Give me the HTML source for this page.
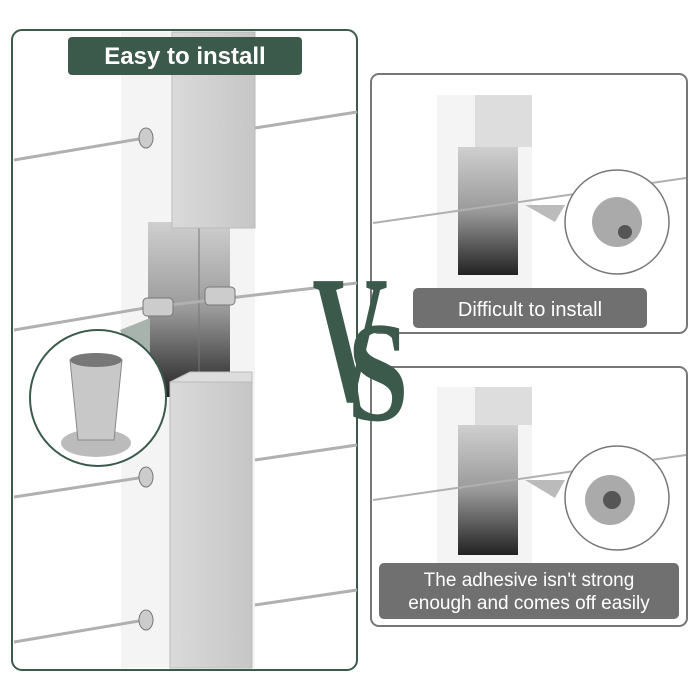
<!DOCTYPE html>
<html><head><style>body{margin:0;background:#fff}svg{display:block}</style></head><body>
<svg width="700" height="700" viewBox="0 0 700 700" xmlns="http://www.w3.org/2000/svg" font-family="Liberation Sans, sans-serif">
<defs>
<linearGradient id="met" x1="0" x2="1"><stop offset="0" stop-color="#dadada"/><stop offset="1" stop-color="#c6c6c6"/></linearGradient>
<linearGradient id="inner" x1="0" y1="0" x2="0" y2="1"><stop offset="0" stop-color="#cfcfcf"/><stop offset=".5" stop-color="#9a9a9a"/><stop offset="1" stop-color="#222"/></linearGradient>
</defs>
<rect x="12" y="30" width="345" height="640" rx="10" fill="#fff" stroke="#3b5a4c" stroke-width="2"/>
<rect x="121" y="32" width="134" height="636" fill="#f4f4f4"/>
<rect x="148" y="222" width="82" height="175" fill="url(#inner)"/>
<line x1="199" y1="222" x2="199" y2="397" stroke="#777"/>
<rect x="172" y="32" width="83" height="196" fill="url(#met)" stroke="#bbb"/>
<rect x="170" y="382" width="82" height="286" fill="url(#met)" stroke="#bbb"/>
<polygon points="170,382 190,372 252,372 252,382" fill="#ddd" stroke="#bbb"/>
<g stroke="#b0b0b0" stroke-width="3" fill="none">
<line x1="14" y1="160" x2="145" y2="138"/><line x1="255" y1="128" x2="357" y2="112"/>
<line x1="14" y1="330" x2="145" y2="308"/><line x1="145" y1="308" x2="357" y2="283"/>
<line x1="14" y1="497" x2="145" y2="477"/><line x1="255" y1="460" x2="357" y2="445"/>
<line x1="14" y1="642" x2="145" y2="620"/><line x1="255" y1="605" x2="357" y2="590"/>
</g>
<g fill="#ccc" stroke="#777"><ellipse cx="146" cy="138" rx="7" ry="10"/><ellipse cx="146" cy="477" rx="7" ry="10"/><ellipse cx="146" cy="620" rx="7" ry="10"/>
<rect x="143" y="298" width="30" height="18" rx="4"/><rect x="205" y="287" width="30" height="18" rx="4"/></g>
<polygon points="120,330 150,318 150,400" fill="#a9b3ad"/>
<circle cx="98" cy="398" r="68" fill="#fff" stroke="#3b5a4c" stroke-width="2"/>
<ellipse cx="96" cy="443" rx="35" ry="14" fill="#bbb"/>
<polygon points="70,360 122,360 114,440 78,440" fill="#c8c8c8" stroke="#888"/>
<ellipse cx="96" cy="360" rx="26" ry="7" fill="#777"/>
<rect x="68" y="37" width="234" height="38" rx="4" fill="#3b5a4c"/>
<text x="185" y="64" font-size="24" font-weight="bold" fill="#fff" text-anchor="middle">Easy to install</text>
<rect x="371" y="74" width="316" height="259" rx="8" fill="#fff" stroke="#777" stroke-width="2"/>
<rect x="371" y="367" width="316" height="259" rx="8" fill="#fff" stroke="#777" stroke-width="2"/>
<g>
<rect x="437" y="95" width="95" height="200" fill="#f4f4f4"/>
<rect x="458" y="147" width="60" height="128" fill="url(#inner)"/>
<rect x="475" y="95" width="57" height="52" fill="#ddd"/>
<line x1="373" y1="223" x2="686" y2="178" stroke="#b0b0b0" stroke-width="2"/>
<polygon points="525,205 555,222 565,205" fill="#bbb"/>
<circle cx="617" cy="222" r="52" fill="#fff" stroke="#777" stroke-width="1.5"/>
<circle cx="617" cy="222" r="25" fill="#aaa"/><circle cx="625" cy="232" r="7" fill="#555"/>
<rect x="413" y="288" width="234" height="40" rx="5" fill="#707070"/>
<text x="530" y="316" font-size="20" fill="#fff" text-anchor="middle">Difficult to install</text>
</g>
<g>
<rect x="437" y="387" width="95" height="180" fill="#f4f4f4"/>
<rect x="458" y="425" width="60" height="130" fill="url(#inner)"/>
<rect x="475" y="387" width="57" height="38" fill="#ddd"/>
<line x1="373" y1="500" x2="686" y2="455" stroke="#b0b0b0" stroke-width="2"/>
<polygon points="525,480 555,498 565,480" fill="#bbb"/>
<circle cx="617" cy="498" r="52" fill="#fff" stroke="#777" stroke-width="1.5"/>
<circle cx="610" cy="500" r="25" fill="#aaa"/><circle cx="612" cy="500" r="9" fill="#555"/>
<rect x="379" y="563" width="300" height="56" rx="5" fill="#707070"/>
<text x="529" y="586" font-size="19" fill="#fff" text-anchor="middle">The adhesive isn't strong</text>
<text x="529" y="609" font-size="19" fill="#fff" text-anchor="middle">enough and comes off easily</text>
</g>
<text transform="translate(350,400) scale(0.95,1.65)" font-size="110" font-weight="bold" font-family="Liberation Serif, serif" fill="#3b5a4c" text-anchor="middle">V</text>
<text transform="translate(378,420) scale(1,1.3)" font-size="110" font-weight="bold" font-family="Liberation Serif, serif" fill="#3b5a4c" text-anchor="middle">S</text>
</svg>
</body></html>
